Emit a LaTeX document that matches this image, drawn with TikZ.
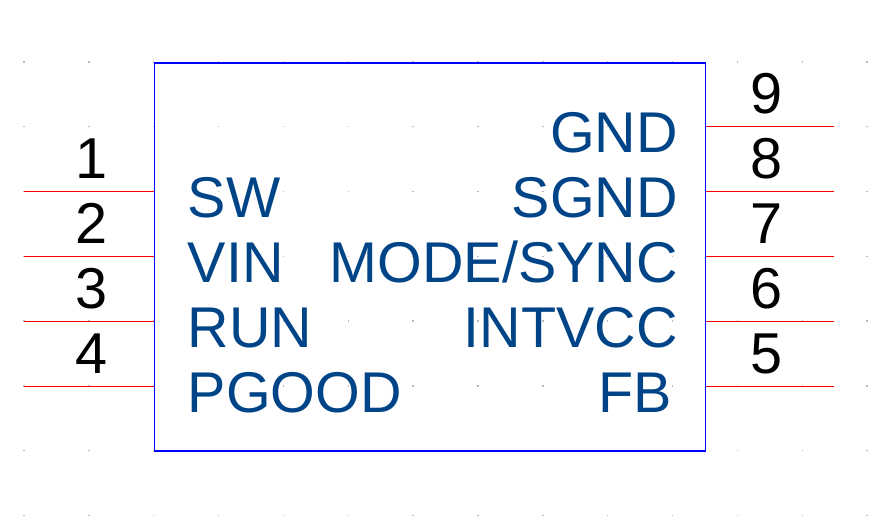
\documentclass[tikz,border=0pt]{standalone}
\usepackage{fontspec}
\setmainfont{Liberation Sans}
\usetikzlibrary{positioning}
\definecolor{labelblue}{HTML}{004488}
\tikzset{body/.style = {draw = blue, line width = 0.12mm, minimum width = 5.51cm, minimum height = 3.88cm, inner sep = 0, anchor = north west}}
\tikzset{pin/.style = {draw = red, line width = 0.12mm}}
\tikzset{pinnum/.style = {font = \fontsize{16.4}{18}\selectfont, text = black, inner sep = 0, anchor = base}}
\tikzset{leftname/.style = {font = \fontsize{16.35}{18}\selectfont, text = labelblue, inner sep = 0, anchor = base west}}
\tikzset{rightname/.style = {font = \fontsize{16.35}{18}\selectfont, text = labelblue, inner sep = 0, anchor = base east}}

\begin{document}
\begin{tikzpicture}
    \useasboundingbox (0, 0) rectangle (8.8, -5.18);

    \foreach \x in {0, ..., 13}
      \foreach \y in {0, ..., 7}
        \fill [black!28] (0.24 + 0.6485 * \x - 0.007, -0.62 - 0.648 * \y - 0.007) rectangle ++(0.014, 0.014);

    \node [body] (chip) at (1.54, -0.625) {};

    \foreach \n/\y in {1/1.915, 2/2.565, 3/3.215, 4/3.865} {
      \coordinate (p\n) at (0.24, -\y);
      \draw [pin] (p\n) -- (p\n -| chip.west);
      \node [pinnum] (num\n) at (0.92, -\y + 0.13) {\n};
    }
    \foreach \n/\y in {9/1.265, 8/1.915, 7/2.565, 6/3.215, 5/3.865} {
      \coordinate (p\n) at (8.34, -\y);
      \draw [pin] (p\n) -- (p\n -| chip.east);
      \node [pinnum] (num\n) at (7.665, -\y + 0.13) {\n};
    }

    \node [leftname] (sw) at (1.87, -2.175) {SW};
    \node [leftname] (vin) at (1.87, -2.825) {VIN};
    \node [leftname] (run) at (1.87, -3.475) {RUN};
    \node [leftname] (pgood) at (1.87, -4.125) {PGOOD};

    \node [rightname] (gnd) at (6.785, -1.53) {GND};
    \node [rightname] (sgnd) at (6.785, -2.175) {SGND};
    \node [rightname] (mode) at (6.785, -2.825) {MODE/SYNC};
    \node [rightname] (intvcc) at (6.785, -3.475) {INTVCC};
    \node [rightname] (fb) at (6.725, -4.125) {FB};
  \end{tikzpicture}
\end{document}
